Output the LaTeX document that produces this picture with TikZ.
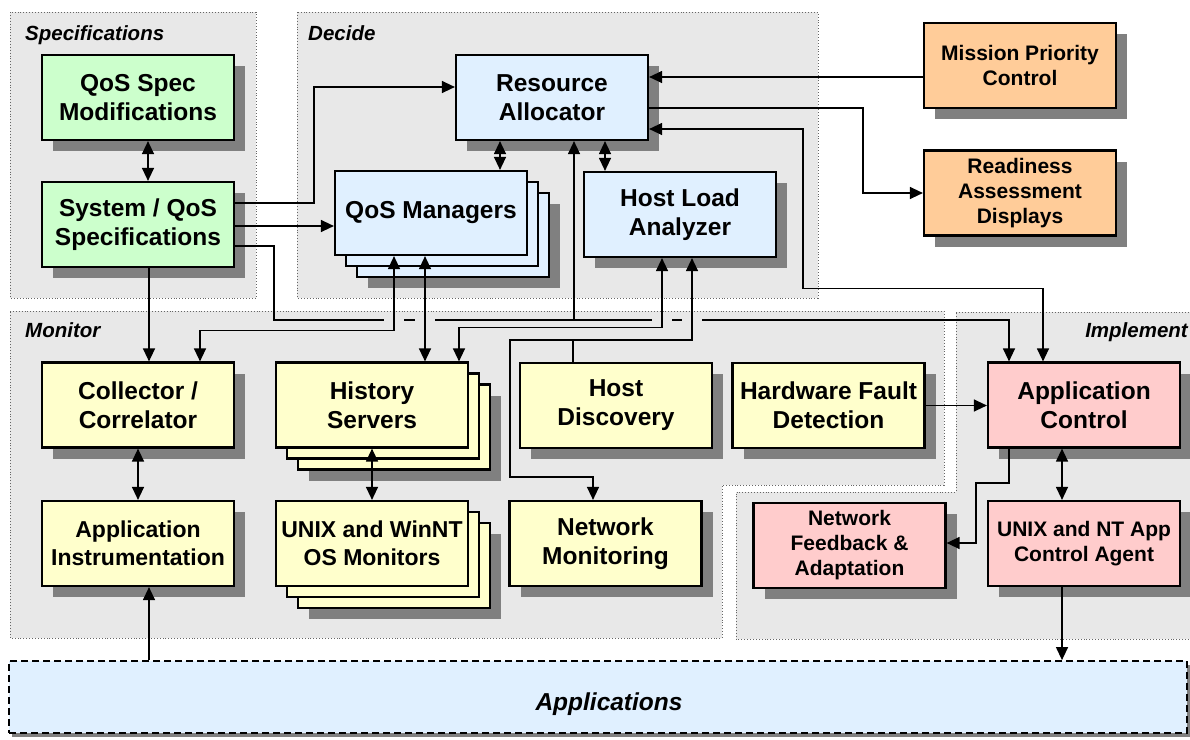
\documentclass[tikz,border=0pt]{standalone}
\usepackage{fontspec}
\setmainfont{Liberation Sans}
\usetikzlibrary{arrows.meta,shadows}

\definecolor{specgreen}{HTML}{CCFFCC}
\definecolor{decideblue}{HTML}{E0F0FF}
\definecolor{missionorange}{HTML}{FFCC99}
\definecolor{monitoryellow}{HTML}{FFFFCC}
\definecolor{implpink}{HTML}{FFCCCC}
\definecolor{panelgray}{HTML}{E8E8E8}
\definecolor{shadowgray}{HTML}{808080}

\newcommand{\nodebig}{\fontsize{24.5}{29}\selectfont\bfseries}
\newcommand{\nodemid}{\fontsize{23}{27.5}\selectfont\bfseries}
\newcommand{\nodesmall}{\fontsize{21}{25}\selectfont\bfseries}
\newcommand{\panellabel}{\fontsize{20.5}{24}\selectfont\bfseries\itshape}

\begin{document}
\begin{tikzpicture}[x=1pt,y=-1pt,
  panel/.style={fill=panelgray, draw=black!60, dotted, line width=0.9pt},
  basebox/.style={draw, line width=2.2pt, fill=#1, minimum width=192pt,
    minimum height=85pt, align=center, inner sep=1pt, font=\nodebig},
  box/.style={basebox=#1,
    general shadow={fill=shadowgray, shadow xshift=11pt, shadow yshift=-11pt}},
  stackbox/.style={basebox=#1,
    general shadow={fill=shadowgray, shadow xshift=33pt, shadow yshift=-33pt},
    general shadow={draw, fill=#1, shadow xshift=22pt, shadow yshift=-22pt},
    general shadow={draw, fill=#1, shadow xshift=11pt, shadow yshift=-11pt}},
  ln/.style={line width=1.3pt},
  arr/.style={ln, -{Triangle[length=13pt,width=12pt]}},
  dbl/.style={ln, {Triangle[length=13pt,width=12pt]}-{Triangle[length=13pt,width=12pt]}}]
\useasboundingbox (0,0) rectangle (1190,739);

% Panels
\draw[panel] (10,12) rectangle (256,298);
\draw[panel] (297,12) rectangle (818,298);
\draw[panel] (10,311) -- (944,311) -- (944,485) -- (722,485) -- (722,638) -- (10,638) -- cycle;
\draw[panel] (956,312) -- (1196,312) -- (1196,639) -- (736,639) -- (736,492) -- (956,492) -- cycle;
\node[anchor=base west, inner sep=0pt, font=\panellabel] (lspec) at (25,40) {Specifications};
\node[anchor=base west, inner sep=0pt, font=\panellabel] (ldecide) at (308,40) {Decide};
\node[anchor=base west, inner sep=0pt, font=\panellabel] (lmonitor) at (25,337) {Monitor};
\node[anchor=base east, inner sep=0pt, font=\panellabel] (limpl) at (1188,337) {Implement};

% Specifications (green)
\node[box=specgreen] (qsm) at (138,97.5) {QoS Spec\\Modifications};
\node[box=specgreen] (sqs) at (138,224.5) {System / QoS\\Specifications};

% Decide (blue)
\node[box=decideblue] (ra) at (552,97.5) {Resource\\Allocator};
\node[stackbox=decideblue, minimum height=84pt] (qm) at (431,213) {QoS Managers};
\node[box=decideblue] (hla) at (680,214.5) {Host Load\\Analyzer};

% Mission side (orange)
\node[box=missionorange, font=\nodesmall] (mpc) at (1020,65.5) {Mission Priority\\Control};
\node[box=missionorange, font=\nodesmall] (rad) at (1020,193) {Readiness\\Assessment\\Displays};

% Monitor (yellow)
\node[box=monitoryellow] (cc) at (138,405) {Collector /\\Correlator};
\node[box=monitoryellow, font=\nodemid] (ai) at (138,543.5) {Application\\Instrumentation};
\node[stackbox=monitoryellow] (hs) at (372,405) {History\\Servers};
\node[stackbox=monitoryellow, font=\nodemid] (osm) at (372,543.5) {UNIX and WinNT\\OS Monitors};
\node[box=monitoryellow] (hd) at (616,405.5) {Host\\Discovery};
\node[box=monitoryellow] (hfd) at (828.5,405.5) {Hardware Fault\\Detection};
\node[box=monitoryellow] (nm) at (605.5,543.5) {Network\\Monitoring};

% Implement (pink)
\node[box=implpink] (ac) at (1084,405) {Application\\Control};
\node[box=implpink, font=\nodesmall] (nfa) at (849.5,545.5) {Network\\Feedback \&\\Adaptation};
\node[box=implpink, font=\nodesmall] (agent) at (1084,543.5) {UNIX and NT App\\Control Agent};

% Applications
\node[draw, dashed, dash pattern=on 7pt off 4pt, line width=1.8pt, fill=decideblue,
  minimum width=1178pt, minimum height=72pt, font=\fontsize{24.5}{29}\selectfont\bfseries\itshape,
  general shadow={fill=shadowgray, shadow xshift=3pt, shadow yshift=-4pt}] (apps) at (598,697)
  {\raisebox{-7pt}[\height][\depth]{\hspace*{22pt}Applications}};

% Specification links
\draw[dbl] ([xshift=10pt]qsm.south) -- ([xshift=10pt]sqs.north);
\draw[arr] ([yshift=21.5pt]sqs.east) -- ++(79,0) |- ([yshift=10.5pt]ra.west);
\draw[arr] ([yshift=-1.5pt]sqs.east) -- ([yshift=-1.5pt]sqs.east -| qm.west);
\draw[arr] ([xshift=11pt]sqs.south) -- ([xshift=11pt]cc.north);

% Bus to allocator and application control (jumps over crossings)
\coordinate (bus) at (274,320);
\foreach \n/\x in {j1/384,j2/404,j3/415,j4/435,j5/652,j6/672,j7/682,j8/702}
  \coordinate (\n) at (\x,320);
\draw[ln] ([yshift=-21.5pt]sqs.east) -| (bus) -- (j1) (j2) -- (j3) (j4) -- (j5) (j6) -- (j7);
\draw[arr] (j8) -| ([xshift=-75pt]ac.north);
\draw[arr] ([xshift=22pt]ra.south |- bus) -- ([xshift=22pt]ra.south);

% Decide links
\draw[dbl] ([xshift=-52pt]ra.south) -- ([xshift=-52pt]ra.south |- qm.north);
\draw[dbl] ([xshift=53pt]ra.south) -- ([xshift=53pt]ra.south |- hla.north);
\draw[arr] ([yshift=-11.5pt]mpc.west) -- ([yshift=-11.5pt]mpc.west -| ra.east);
\draw[arr] ([yshift=-10.5pt]ra.east) -- ++(214,0) |- (rad.west);
\draw[dbl] ([yshift=-31.5pt]ra.east) -- ++(154,0) |- ([xshift=-41pt,yshift=73pt]ac.north) -- ([xshift=-41pt]ac.north);

% Monitor links
\draw[dbl] ([xshift=-37pt]qm.south) |- ([xshift=62pt,yshift=31pt]cc.north) -- ([xshift=62pt]cc.north);
\draw[dbl] ([xshift=-6pt]qm.south) -- ([xshift=-6pt]qm.south |- hs.north);
\draw[dbl] ([xshift=-18pt]hla.south) |- ([xshift=87pt,yshift=34pt]hs.north) -- ([xshift=87pt]hs.north);
\coordinate (nmturn) at (510,340);
\draw[dbl] ([xshift=12pt]hla.south) |- (nmturn) |- ([xshift=-12.5pt,yshift=23pt]nm.north) -- ([xshift=-12.5pt]nm.north);
\draw[ln] ([xshift=-43pt]hd.north) -- ([xshift=-43pt]hd.north |- nmturn);
\draw[dbl] (cc.south) -- (ai.north);
\draw[dbl] (hs.south) -- (osm.north);
\draw[arr] ([xshift=11pt]ai.south |- apps.north) -- ([xshift=11pt]ai.south);

% Implement links
\draw[arr] (hfd.east) -- (hfd.east -| ac.west);
\coordinate (nfturn) at (976,483);
\draw[arr] ([xshift=-75pt]ac.south) |- (nfturn) |- ([yshift=2.5pt]nfa.east);
\draw[dbl] ([xshift=-22pt]ac.south) -- ([xshift=-22pt]agent.north);
\draw[arr] ([xshift=-22pt]agent.south) -- ([xshift=-22pt]agent.south |- apps.north);
\end{tikzpicture}
\end{document}
